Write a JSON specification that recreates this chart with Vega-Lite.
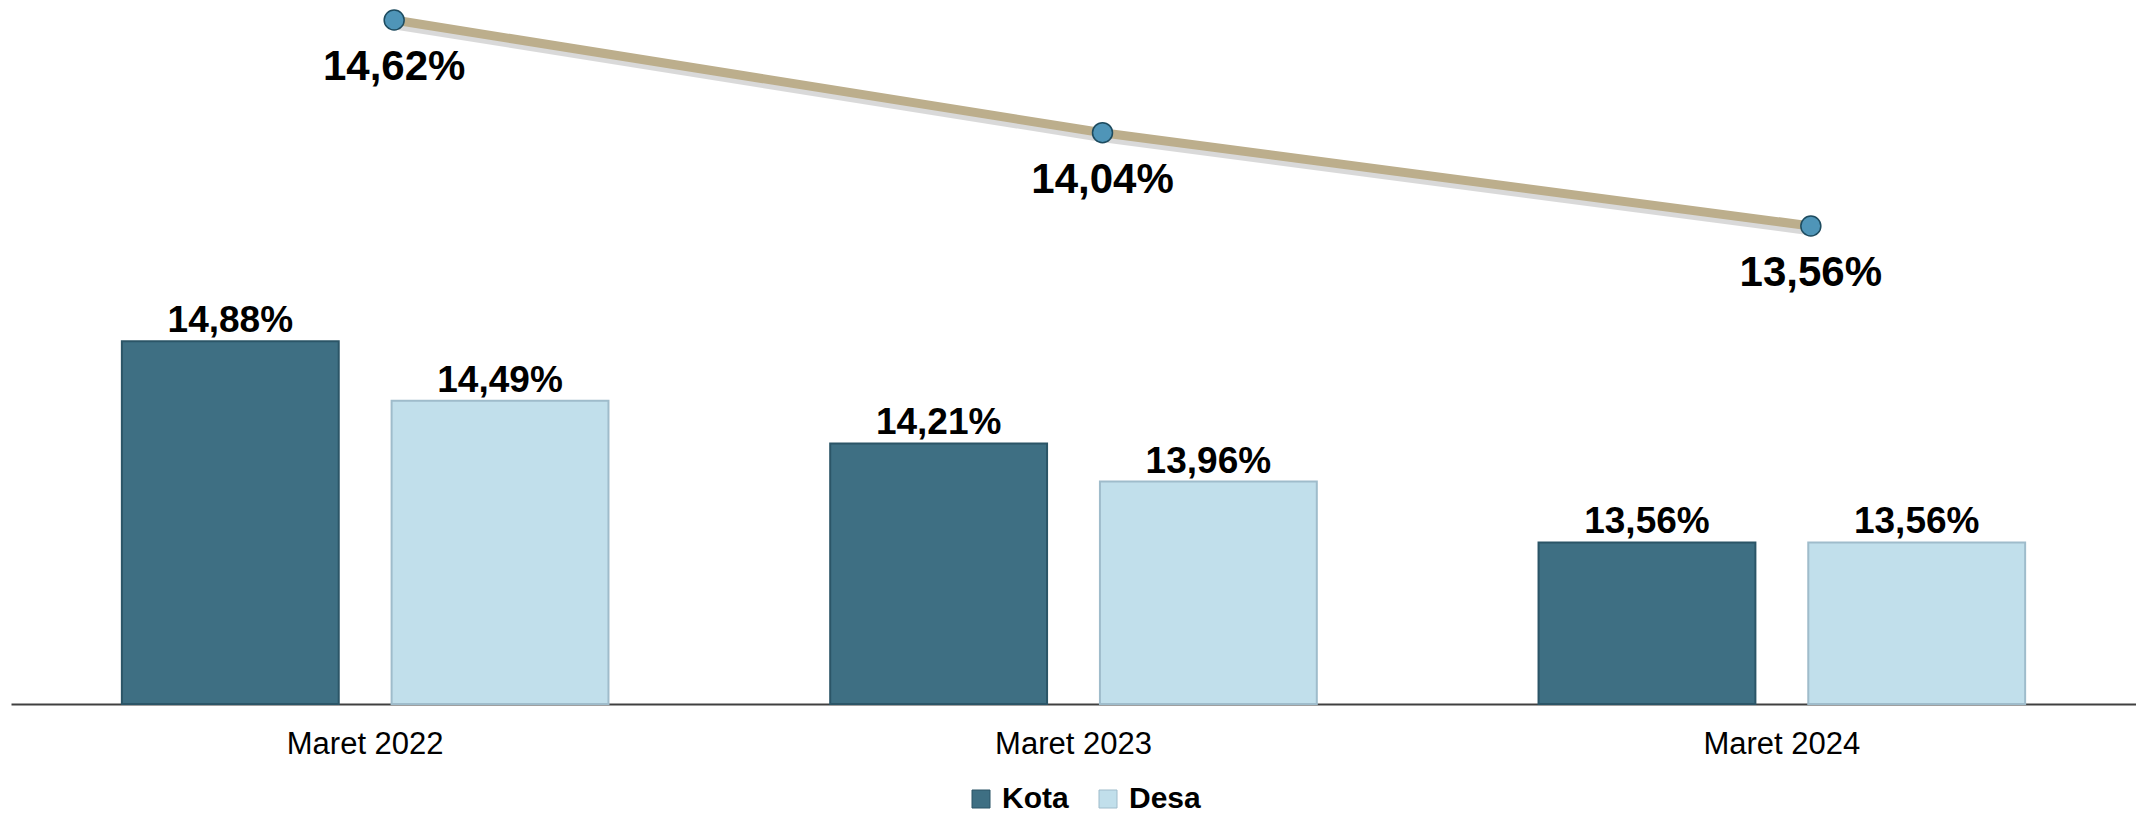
{
  "$schema": "https://vega.github.io/schema/vega-lite/v6.json",
  "width": 2125,
  "height": 704,
  "autosize": {"type": "none"},
  "padding": {"left": 11, "top": 0, "right": 0, "bottom": 111},
  "background": "white",
  "config": {"view": {"stroke": null}, "font": "Liberation Sans"},
  "datasets": {
    "bars": [
      {"tahun": "Maret 2022", "jenis": "Kota", "nilai": 14.88},
      {"tahun": "Maret 2022", "jenis": "Desa", "nilai": 14.49},
      {"tahun": "Maret 2023", "jenis": "Kota", "nilai": 14.21},
      {"tahun": "Maret 2023", "jenis": "Desa", "nilai": 13.96},
      {"tahun": "Maret 2024", "jenis": "Kota", "nilai": 13.56},
      {"tahun": "Maret 2024", "jenis": "Desa", "nilai": 13.56}
    ],
    "line": [
      {"tahun": "Maret 2022", "total": 14.62},
      {"tahun": "Maret 2023", "total": 14.04},
      {"tahun": "Maret 2024", "total": 13.56}
    ]
  },
  "layer": [
    {
      "data": {"name": "bars"},
      "transform": [{"calculate": "replace(format(datum.nilai, '.2f'), '.', ',') + '%'", "as": "label"}],
      "encoding": {
        "x": {
          "field": "tahun", "type": "nominal", "sort": null,
          "scale": {"paddingInner": 0, "paddingOuter": 0},
          "axis": {"title": null, "labelAngle": 0, "labelFontSize": 31, "labelFont": "Liberation Sans", "labelColor": "#000000", "labelBaseline": "alphabetic", "labelPadding": 49, "ticks": false, "domainColor": "#404040", "domainWidth": 2, "grid": false}
        },
        "xOffset": {"field": "jenis", "type": "nominal", "sort": ["Kota", "Desa"], "scale": {"paddingInner": 0.196, "paddingOuter": 0.411}},
        "y": {"field": "nilai", "type": "quantitative", "scale": {"domain": [12.5, 17.12], "zero": false, "nice": false}, "axis": null}
      },
      "layer": [
        {
          "mark": {"type": "bar", "strokeWidth": 2},
          "encoding": {
            "y2": {"datum": 12.5},
            "color": {
              "field": "jenis", "type": "nominal",
              "scale": {"domain": ["Kota", "Desa"], "range": ["#3e6f83", "#c1dfeb"]},
              "legend": {"orient": "none", "legendX": 955, "legendY": 784, "direction": "horizontal", "title": null, "symbolType": "square", "symbolSize": 324, "symbolStrokeWidth": 1, "symbolStrokeColor": "#6a8a99", "labelFontSize": 30, "labelFontWeight": "bold", "labelFont": "Liberation Sans", "labelColor": "#000000", "columnPadding": 24, "labelOffset": 6, "padding": 0}
            },
            "stroke": {
              "field": "jenis", "type": "nominal",
              "scale": {"domain": ["Kota", "Desa"], "range": ["#2b5567", "#9fbccb"]},
              "legend": null
            }
          }
        },
        {
          "mark": {"type": "text", "dy": -9, "baseline": "alphabetic", "fontSize": 37, "fontWeight": "bold", "font": "Liberation Sans", "color": "#000000"},
          "encoding": {"text": {"field": "label"}}
        }
      ]
    },
    {
      "data": {"name": "line"},
      "transform": [{"calculate": "replace(format(datum.total, '.2f'), '.', ',') + '%'", "as": "label"}],
      "encoding": {
        "x": {"field": "tahun", "type": "nominal", "sort": null},
        "y": {"field": "total", "type": "quantitative", "scale": {"domain": [11.1, 14.723], "zero": false, "nice": false}, "axis": null}
      },
      "layer": [
        {"mark": {"type": "line", "xOffset": 30, "yOffset": 5, "strokeWidth": 9, "color": "#000000", "opacity": 0.15}},
        {"mark": {"type": "line", "xOffset": 29, "strokeWidth": 9, "color": "#bcae8c"}},
        {"mark": {"type": "point", "xOffset": 29, "filled": true, "shape": "circle", "size": 400, "color": "#4f95b8", "stroke": "#1d4b5f", "strokeWidth": 1.5, "opacity": 1}},
        {
          "mark": {"type": "text", "xOffset": 29, "dy": 60, "baseline": "alphabetic", "fontSize": 42, "fontWeight": "bold", "font": "Liberation Sans", "color": "#000000"},
          "encoding": {"text": {"field": "label"}}
        }
      ]
    }
  ],
  "resolve": {"scale": {"y": "independent"}}
}
